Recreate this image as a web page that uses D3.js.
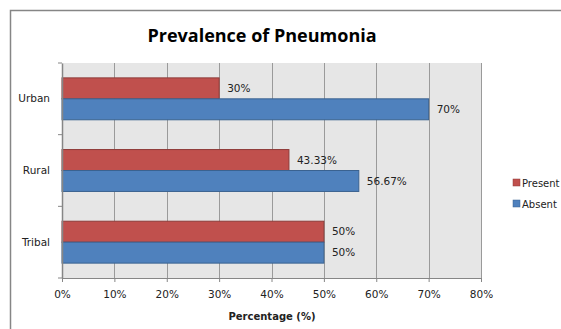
<!DOCTYPE html>
<html>
<head>
<meta charset="utf-8">
<script src="https://cdn.jsdelivr.net/npm/d3@7"></script>
<style>
  html, body { margin: 0; padding: 0; background: #fff; }
  svg { display: block; }
</style>
</head>
<body>
<svg id="chart" width="561" height="329"></svg>
<script>
// Prevalence of pneumonia by area, in percent
const categories = ["Urban", "Rural", "Tribal"];
const seriesNames = ["Present", "Absent"];
const presentValues = [30, 43.33, 50];
const absentValues = [70, 56.67, 50];
const presentLabels = ["30%", "43.33%", "50%"];
const absentLabels = ["70%", "56.67%", "50%"];
const xTicks = [0, 10, 20, 30, 40, 50, 60, 70, 80];

const colors = { Present: "#C0504D", Absent: "#4F81BD" };
const strokes = { Present: "#8E3B39", Absent: "#3A6290" };

const svg = d3.select("#chart");
const font = "'DejaVu Sans', sans-serif";

// outer chart frame
svg.append("rect")
  .attr("x", 10.5).attr("y", 10.5)
  .attr("width", 600).attr("height", 340)
  .attr("fill", "#fff").attr("stroke", "#868686").attr("stroke-width", 1.5);

const plot = { left: 62, right: 481, top: 63, bottom: 278 };

const x = d3.scaleLinear().domain([0, 80]).range([plot.left, plot.right]);
const y = d3.scaleBand().domain(categories).range([plot.top, plot.bottom]).paddingInner(0).paddingOuter(0);
const inner = d3.scaleBand().domain(seriesNames)
  .range([0, y.bandwidth()]).paddingInner(0).paddingOuter(0.71);

// plot background
svg.append("rect")
  .attr("x", plot.left).attr("y", plot.top)
  .attr("width", plot.right - plot.left).attr("height", plot.bottom - plot.top)
  .attr("fill", "#e6e6e6");

// vertical gridlines
svg.append("g").selectAll("line").data(xTicks.slice(1)).join("line")
  .attr("x1", d => Math.round(x(d)) + 0.5).attr("x2", d => Math.round(x(d)) + 0.5)
  .attr("y1", plot.top).attr("y2", plot.bottom)
  .attr("stroke", "#9a9a9a").attr("stroke-width", 1);

// bars
const rows = categories.map((c, i) => ({
  cat: c,
  Present: { v: presentValues[i], label: presentLabels[i] },
  Absent: { v: absentValues[i], label: absentLabels[i] }
}));

const barG = svg.append("g");
seriesNames.forEach(s => {
  barG.selectAll(null).data(rows).join("rect")
    .attr("x", x(0))
    .attr("y", d => y(d.cat) + inner(s))
    .attr("width", d => x(d[s].v) - x(0))
    .attr("height", inner.bandwidth())
    .attr("fill", colors[s])
    .attr("stroke", strokes[s]).attr("stroke-width", 1);
  barG.selectAll(null).data(rows).join("text")
    .attr("x", d => x(d[s].v) + 8)
    .attr("y", d => y(d.cat) + inner(s) + inner.bandwidth() / 2)
    .attr("dy", "0.35em")
    .attr("font-family", font).attr("font-size", 10.5)
    .attr("fill", "#222")
    .text(d => d[s].label);
});

// x axis
const xAxis = d3.axisBottom(x).tickValues(xTicks).tickFormat(d => d + "%").tickSize(4).tickPadding(9);
const gx = svg.append("g").attr("transform", `translate(0,${plot.bottom})`).call(xAxis);
gx.select(".domain").attr("stroke", "#868686");
gx.selectAll(".tick line").attr("stroke", "#868686");
gx.selectAll("text").attr("font-family", font).attr("font-size", 10.5).attr("fill", "#222");

// y axis
const yAxis = d3.axisLeft(y).tickSize(0).tickPadding(12);
const gy = svg.append("g").attr("transform", `translate(${plot.left},0)`).call(yAxis);
gy.select(".domain").attr("stroke", "#868686").attr("stroke-width", 1.5);
gy.selectAll("text").attr("font-family", font).attr("font-size", 10.5).attr("fill", "#222");
// category separator ticks
const sepTicks = categories.map(c => y(c)).concat([y.range()[1]]);
gy.append("g").selectAll("line").data(sepTicks).join("line")
  .attr("x1", -4).attr("x2", 0)
  .attr("y1", d => d).attr("y2", d => d)
  .attr("stroke", "#868686");

// title
svg.append("text")
  .attr("x", 262).attr("y", 42)
  .attr("text-anchor", "middle")
  .attr("font-family", "'Open Sans', sans-serif").attr("font-weight", "bold").attr("font-size", 18)
  .attr("fill", "#000")
  .text("Prevalence of Pneumonia");

// x axis title
svg.append("text")
  .attr("x", 272).attr("y", 320)
  .attr("text-anchor", "middle")
  .attr("font-family", font).attr("font-weight", "bold").attr("font-size", 10)
  .attr("fill", "#222")
  .text("Percentage (%)");

// legend
const legend = svg.append("g").attr("transform", "translate(513,179)");
seriesNames.forEach((s, i) => {
  const g = legend.append("g").attr("transform", `translate(0,${i * 21})`);
  g.append("rect").attr("width", 7).attr("height", 7)
    .attr("fill", colors[s]).attr("stroke", strokes[s]).attr("stroke-width", 0.5);
  g.append("text").attr("x", 9).attr("y", 4).attr("dy", "0.35em")
    .attr("font-family", font).attr("font-size", 10).attr("fill", "#222")
    .text(s);
});
</script>
</body>
</html>
